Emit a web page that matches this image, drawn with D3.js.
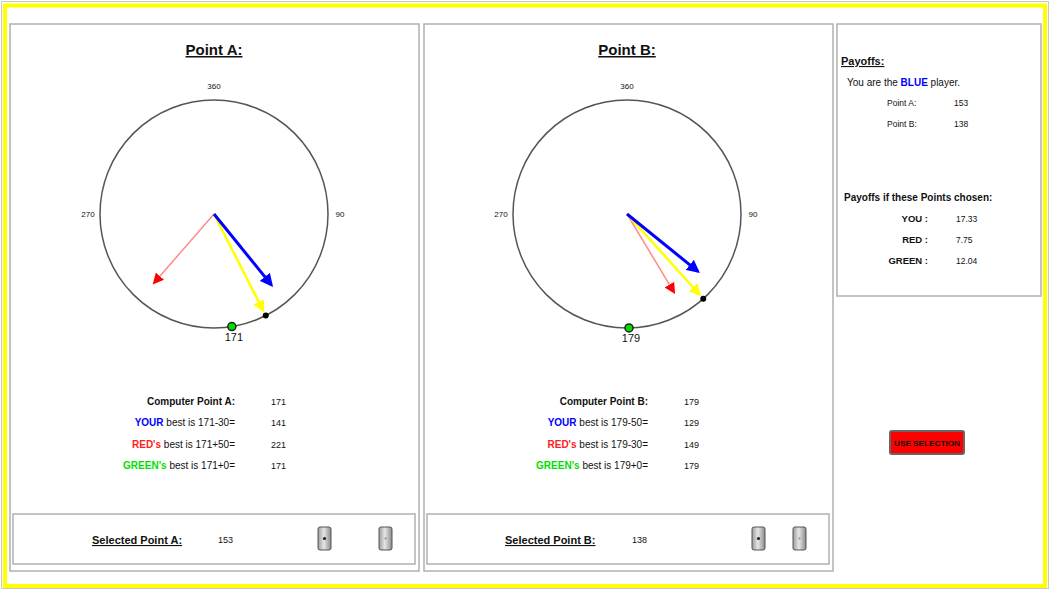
<!DOCTYPE html>
<html lang="en">
<head>
<meta charset="utf-8">
<title>points</title>
<script src="https://d3js.org/d3.v7.min.js"></script>
<style type="text/css">
body { margin: 0; background: white; }
text { font-family: "Liberation Sans", Arial, sans-serif; fill: #111; }
</style>
</head>
<body>
<div id="chart"></div>
<script>

  // values
  var pointNames = ["A", "B"];
  var computerPoints = [171, 179];
  var selectedPoints = [153, 138];
  var yourOffsets = [-30, -50];
  var redOffsets = [50, -30];
  var greenOffsets = [0, 0];
  var tickAngles = [360, 90, 270];
  var payoffNames = ["YOU", "RED", "GREEN"];
  var payoffValues = [17.33, 7.75, 12.04];
  var payoffColors = ["#0000ff", "#ff2020", "#00e000"];

  var W = 1050, H = 589;
  var svg = d3.select("#chart")
    .append("svg")
      .attr("width", W)
      .attr("height", H);

  var defs = svg.append("defs");
  function arrowHead(id, color, size) {
    defs.append("marker")
      .attr("id", id)
      .attr("viewBox", "0 -5 10 10")
      .attr("refX", 8)
      .attr("refY", 0)
      .attr("markerUnits", "userSpaceOnUse")
      .attr("markerWidth", size)
      .attr("markerHeight", size)
      .attr("orient", "auto")
      .append("path")
        .attr("d", "M0,-5L10,0L0,5Z")
        .attr("fill", color);
  }
  arrowHead("headBlue", "#0000ff", 13);
  arrowHead("headYellow", "#ffff00", 12);
  arrowHead("headRed", "#ff0000", 11);

  var grad = defs.append("linearGradient").attr("id", "btnGrad");
  grad.append("stop").attr("offset", "0%").attr("stop-color", "#9a9a9a");
  grad.append("stop").attr("offset", "45%").attr("stop-color", "#e6e6e6");
  grad.append("stop").attr("offset", "100%").attr("stop-color", "#8a8a8a");

  // outer frame
  svg.append("rect").attr("x", 1.5).attr("y", 1.5).attr("width", W - 3).attr("height", H - 2)
    .attr("fill", "none").attr("stroke", "#c8c8c8").attr("stroke-width", 1);
  svg.append("rect").attr("x", 5).attr("y", 5.5).attr("width", 1040).attr("height", 580.5)
    .attr("fill", "white").attr("stroke", "#ffff00").attr("stroke-width", 4);

  // angle scale: 0 at top, clockwise
  var angle = d3.scaleLinear().domain([0, 360]).range([0, 2 * Math.PI]);
  var R = 114;

  function fmtOffset(o) { return (o >= 0 ? "+" : "") + o; }

  var panelW = 409;
  var buttonX = [[308, 369], [328, 369]];
  pointNames.forEach(function(name, i) {
    var x0 = 10 + i * 414;
    var g = svg.append("g").attr("transform", "translate(" + x0 + ",0)");
    var cx = 204 - i, cy = 214;

    g.append("rect").attr("x", 0).attr("y", 24).attr("width", panelW).attr("height", 547)
      .attr("fill", "white").attr("stroke", "#b0b0b0").attr("stroke-width", 1.5);

    g.append("text").attr("x", cx).attr("y", 55)
      .attr("text-anchor", "middle").attr("font-size", 15).attr("font-weight", "bold")
      .attr("text-decoration", "underline")
      .text("Point " + name + ":");

    var px = function(a, r) { return cx + r * Math.sin(angle(a)); };
    var py = function(a, r) { return cy - r * Math.cos(angle(a)); };

    g.append("circle").attr("cx", cx).attr("cy", cy).attr("r", R)
      .attr("fill", "none").attr("stroke", "#555").attr("stroke-width", 1.5);

    g.selectAll(".tick").data(tickAngles).enter().append("text")
      .attr("class", "tick")
      .attr("x", function(d) { return px(d, R + 12); })
      .attr("y", function(d) { return py(d, R + 12) + (d === 360 ? 1 : 3); })
      .attr("text-anchor", "middle").attr("font-size", 8)
      .text(function(d) { return d; });

    var cp = computerPoints[i], sp = selectedPoints[i];
    var arrows = [
      { a: cp + redOffsets[i], len: 0.8, color: "#ff8a8a", w: 1.5, head: "headRed" },
      { a: sp, len: 0.95, color: "#ffff00", w: 2.5, head: "headYellow" },
      { a: cp + yourOffsets[i], len: 0.8, color: "#0000ff", w: 3, head: "headBlue" }
    ];
    g.selectAll(".arrow").data(arrows).enter().append("line")
      .attr("class", "arrow")
      .attr("x1", cx).attr("y1", cy)
      .attr("x2", function(d) { return px(d.a, R * d.len); })
      .attr("y2", function(d) { return py(d.a, R * d.len); })
      .attr("stroke", function(d) { return d.color; })
      .attr("stroke-width", function(d) { return d.w; })
      .attr("marker-end", function(d) { return "url(#" + d.head + ")"; });

    // selected point (black) and computer point (green)
    g.append("circle").attr("cx", px(sp, R)).attr("cy", py(sp, R)).attr("r", 3)
      .attr("fill", "#000");
    g.append("circle").attr("cx", px(cp, R)).attr("cy", py(cp, R)).attr("r", 4)
      .attr("fill", "#00e000").attr("stroke", "#222").attr("stroke-width", 1.5);
    g.append("text").attr("x", px(cp, R) + 2).attr("y", py(cp, R) + 14)
      .attr("text-anchor", "middle").attr("font-size", 11)
      .text(cp);

    // best response rows
    var rows = [
      { who: "", whoColor: "#111", rest: "Computer Point " + name + ":", val: cp, bold: true },
      { who: "YOUR", whoColor: "#0000ff", rest: " best is " + cp + fmtOffset(yourOffsets[i]) + "=", val: cp + yourOffsets[i] },
      { who: "RED's", whoColor: "#ff2020", rest: " best is " + cp + fmtOffset(redOffsets[i]) + "=", val: cp + redOffsets[i] },
      { who: "GREEN's", whoColor: "#00e000", rest: " best is " + cp + fmtOffset(greenOffsets[i]) + "=", val: cp + greenOffsets[i] }
    ];
    var rowY = d3.scalePoint().domain(d3.range(rows.length)).range([405, 469]);
    var lx = 225 - i;
    rows.forEach(function(r, k) {
      var t = g.append("text").attr("x", lx).attr("y", rowY(k))
        .attr("text-anchor", "end").attr("font-size", 10);
      if (r.who) {
        t.append("tspan").attr("fill", r.whoColor).attr("font-weight", "bold").text(r.who);
      }
      t.append("tspan").attr("font-weight", r.bold ? "bold" : "normal").text(r.rest);
      g.append("text").attr("x", lx + 36).attr("y", rowY(k))
        .attr("font-size", 9).text(r.val);
    });

    // selection bar
    g.append("rect").attr("x", 3).attr("y", 514).attr("width", 402).attr("height", 50)
      .attr("fill", "white").attr("stroke", "#b0b0b0").attr("stroke-width", 1.5);
    g.append("text").attr("x", 82 - i).attr("y", 544)
      .attr("font-size", 11).attr("font-weight", "bold").attr("text-decoration", "underline")
      .text("Selected Point " + name + ":");
    g.append("text").attr("x", 208).attr("y", 543)
      .attr("font-size", 9).text(sp);

    buttonX[i].forEach(function(bx, b) {
      g.append("rect").attr("x", bx).attr("y", 527).attr("width", 13).attr("height", 23)
        .attr("rx", 2).attr("fill", "url(#btnGrad)").attr("stroke", "#555").attr("stroke-width", 1);
      g.append("circle").attr("cx", bx + 6.5).attr("cy", 538.5).attr("r", b === 0 ? 1.6 : 1)
        .attr("fill", b === 0 ? "#222" : "#888");
    });
  });

  // payoff panel
  var p = svg.append("g").attr("transform", "translate(837,0)");
  p.append("rect").attr("x", 0).attr("y", 24).attr("width", 204).attr("height", 272)
    .attr("fill", "white").attr("stroke", "#b0b0b0").attr("stroke-width", 1.5);
  p.append("text").attr("x", 4).attr("y", 65).attr("font-size", 11).attr("font-weight", "bold")
    .attr("text-decoration", "underline").text("Payoffs:");
  var you = p.append("text").attr("x", 10).attr("y", 86).attr("font-size", 10);
  you.append("tspan").text("You are the ");
  you.append("tspan").attr("fill", "#0000ff").attr("font-weight", "bold").text("BLUE");
  you.append("tspan").text("  player.");
  pointNames.forEach(function(name, i) {
    p.append("text").attr("x", 50).attr("y", 106 + i * 21).attr("font-size", 8.5)
      .text("Point " + name + ":");
    p.append("text").attr("x", 117).attr("y", 106 + i * 21).attr("font-size", 8.5)
      .text(selectedPoints[i]);
  });
  p.append("text").attr("x", 7).attr("y", 201).attr("font-size", 10).attr("font-weight", "bold")
    .text("Payoffs if these Points chosen:");
  var payY = d3.scalePoint().domain(payoffNames).range([222, 264]);
  payoffNames.forEach(function(n, k) {
    p.append("text").attr("x", 91).attr("y", payY(n)).attr("text-anchor", "end")
      .attr("font-size", 9.5).attr("font-weight", "bold").attr("fill", payoffColors[k])
      .text(n + " :");
    p.append("text").attr("x", 119).attr("y", payY(n)).attr("font-size", 8.5)
      .text(d3.format(".2f")(payoffValues[k]));
  });

  // use selection button
  var btn = svg.append("g").attr("transform", "translate(890,431)");
  btn.append("rect").attr("width", 74).attr("height", 23).attr("rx", 2)
    .attr("fill", "#ff0000").attr("stroke", "#666").attr("stroke-width", 2);
  btn.append("text").attr("x", 37).attr("y", 15).attr("text-anchor", "middle")
    .attr("font-size", 8).attr("font-weight", "bold").attr("textLength", 66)
    .attr("lengthAdjust", "spacingAndGlyphs")
    .text("USE SELECTION");

</script>
</body>
</html>
